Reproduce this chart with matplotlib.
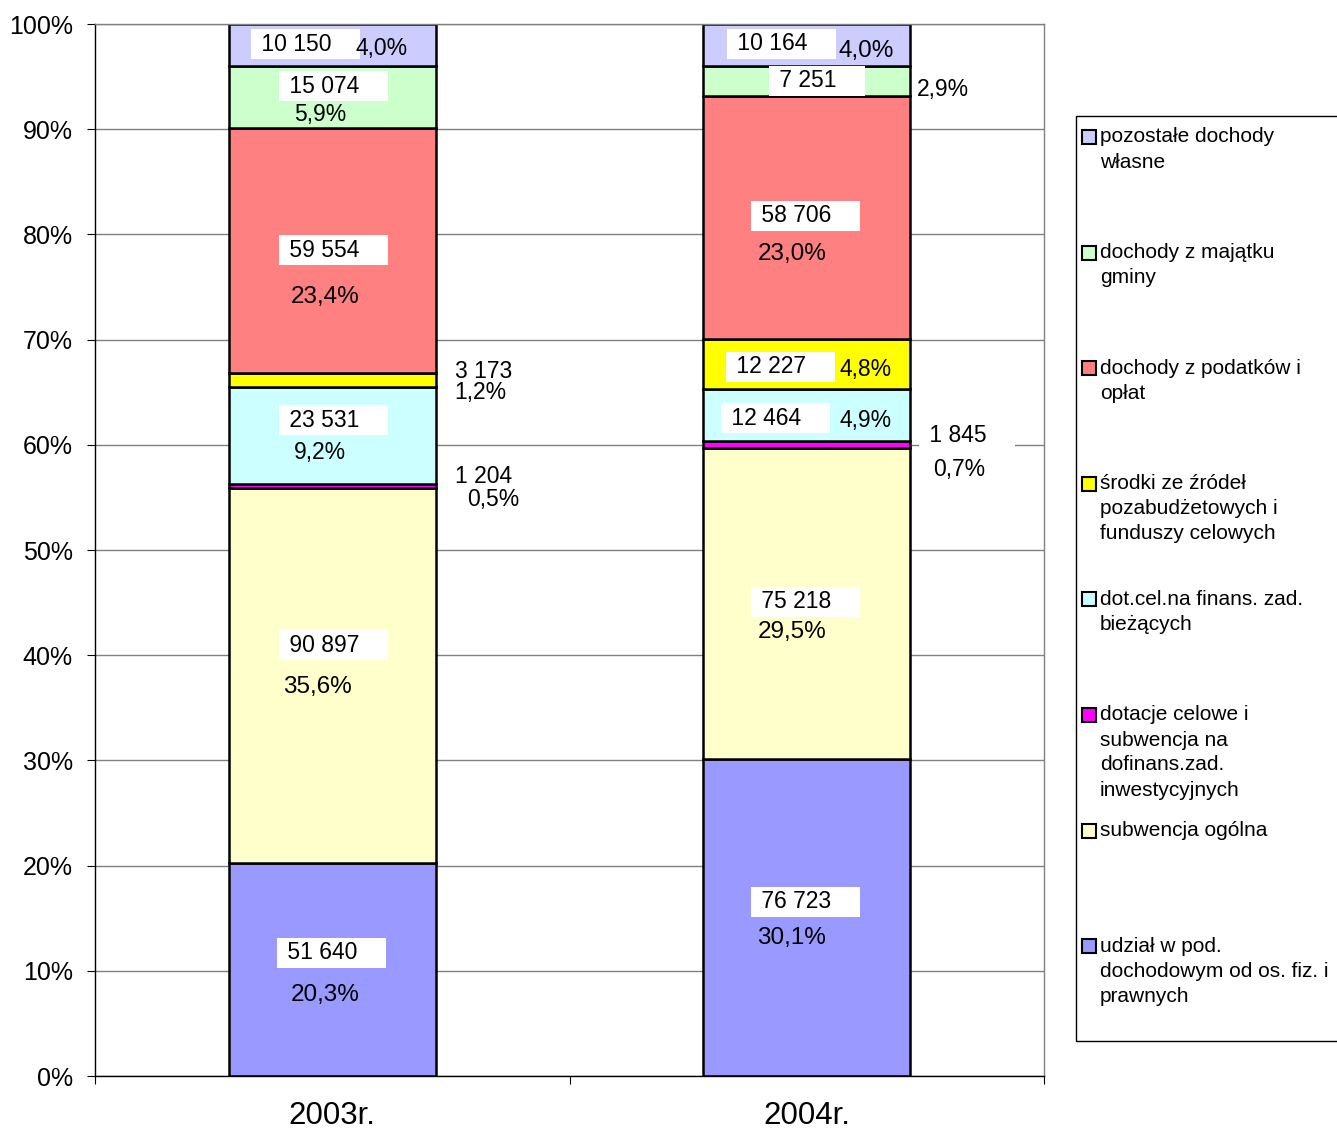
import numpy as np
import matplotlib.pyplot as plt
from matplotlib.patches import Rectangle

plt.rcParams['font.family'] = ['Liberation Sans', 'DejaVu Sans']

years = ['2003r.', '2004r.']
# series from bottom to top of the stack
series = [
    ['udział w pod.', 'dochodowym od os. fiz. i', 'prawnych'],
    ['subwencja ogólna'],
    ['dotacje celowe i', 'subwencja na', 'dofinans.zad.', 'inwestycyjnych'],
    ['dot.cel.na finans. zad.', 'bieżących'],
    ['środki ze źródeł', 'pozabudżetowych i', 'funduszy celowych'],
    ['dochody z podatków i', 'opłat'],
    ['dochody z majątku', 'gminy'],
    ['pozostałe dochody', 'własne'],
]
colors = ['#9999FF', '#FFFFCC', '#FF00FF', '#CCFFFF', '#FFFF00', '#FF8080', '#CCFFCC', '#CCCCFF']

v2003 = [51640, 90897, 1204, 23531, 3173, 59554, 15074, 10150]
v2004 = [76723, 75218, 1845, 12464, 12227, 58706, 7251, 10164]
pct2003 = ['20,3%', '35,6%', '0,5%', '9,2%', '1,2%', '23,4%', '5,9%', '4,0%']
pct2004 = ['30,1%', '29,5%', '0,7%', '4,9%', '4,8%', '23,0%', '2,9%', '4,0%']

# label layout, pixel offsets from segment centre: (dx, dy, boxed) for values,
# (dx, dy, ha, fontsize) for percentages
val_pos = [
    [(-51.5, -16.6, 1), (-49.5, -30.8, 1), (122.5, -9, 0), (-49.5, -15, 1),
     (122.5, -8, 0), (-49.5, -0.7, 1), (-49.5, -10.9, 1), (-77.5, -0.9, 1)],
    [(-52, -15.5, 1), (-52, -1.6, 1), (116, -8.4, 1), (-82, 3.2, 1),
     (-77, 3.2, 1), (-52, -1.3, 1), (-34, 0, 1), (-76, -1, 1)],
]
pct_pos = [
    [(-7.5, 25.4, 'center', 17.5), (-14.5, 11.2, 'center', 17.5), (134.5, 14, 'left', 16.5),
     (-12.5, 17, 'center', 16.5), (122.5, 13, 'left', 16.5), (-7.5, 46.3, 'center', 17.5),
     (-12.5, 17.1, 'center', 16.5), (49.5, 4, 'center', 16.5)],
    [(-15, 20.5, 'center', 17.5), (-15, 28.4, 'center', 17.5), (126, 25.6, 'left', 16.5),
     (59, 5.2, 'center', 16.5), (59, 6.2, 'center', 16.5), (-15, 36.7, 'center', 17.5),
     (110, 9, 'left', 16.5), (59, 6, 'center', 17.5)],
]

W, H = 1337, 1133
fig = plt.figure(figsize=(W / 100, H / 100), dpi=100)
ax = fig.add_axes([95 / W, 57 / H, 949 / W, 1052 / H])

px = 0.72  # pixels -> points
for i, (vals, pcts) in enumerate([(v2003, pct2003), (v2004, pct2004)]):
    vals = np.array(vals, dtype=float)
    share = vals / vals.sum() * 100
    bottom = 0
    for k in range(len(vals)):
        ax.bar(i, share[k], bottom=bottom, width=0.436, color=colors[k],
               edgecolor='black', linewidth=1.8, zorder=2)
        mid = bottom + share[k] / 2
        dx, dy, boxed = val_pos[i][k]
        txt = f'{int(vals[k]):,}'.replace(',', ' ')
        if boxed:
            ax.annotate(' ' + txt + '    ', xy=(i, mid), xytext=(dx * px, -dy * px),
                        textcoords='offset points', ha='left', va='center',
                        fontsize=16.5, zorder=4,
                        bbox=dict(boxstyle='square,pad=0.15', fc='white', ec='none'))
        else:
            ax.annotate(txt, xy=(i, mid), xytext=(dx * px, -dy * px),
                        textcoords='offset points', ha='left', va='center',
                        fontsize=16.5, zorder=4)
        dx, dy, ha, fs = pct_pos[i][k]
        ax.annotate(pcts[k], xy=(i, mid), xytext=(dx * px, -dy * px),
                    textcoords='offset points', ha=ha, va='center',
                    fontsize=fs, zorder=5)
        bottom += share[k]

ax.set_xlim(-0.5, 1.5)
ax.set_ylim(0, 100)
ax.set_yticks(range(0, 101, 10))
ax.set_yticklabels([f'{t}%' for t in range(0, 101, 10)], fontsize=18)
ax.set_xticks([0, 1])
ax.set_xticklabels(years, fontsize=22.5)
ax.set_xticks([-0.5, 0.5, 1.5], minor=True)
ax.tick_params(axis='y', length=6, width=0.8, pad=10)
ax.tick_params(axis='x', which='major', length=0, pad=18)
ax.tick_params(axis='x', which='minor', length=6, width=0.8)
ax.yaxis.grid(True, color='#808080', lw=1)
ax.set_axisbelow(True)
for s in ['left', 'bottom']:
    ax.spines[s].set_color('black')
    ax.spines[s].set_linewidth(1)
for s in ['right', 'top']:
    ax.spines[s].set_color('#808080')
    ax.spines[s].set_linewidth(1)

# legend, drawn by hand so entries sit at even steps like the original
fig.add_artist(Rectangle((1076 / W, 1 - 1041 / H), 0.3, (1041 - 116) / H,
                         transform=fig.transFigure, fc='white', ec='black', lw=1))
for n, k in enumerate(range(len(series) - 1, -1, -1)):
    y0 = 137 + n * 115.6
    fig.add_artist(Rectangle((1082 / W, 1 - (y0 + 7) / H), 14 / W, 14 / H,
                             transform=fig.transFigure, fc=colors[k], ec='black', lw=1.5))
    for j, line in enumerate(series[k]):
        fig.text(1100 / W, 1 - (y0 + j * 25) / H, line, fontsize=15,
                 ha='left', va='center')

fig.savefig('out.png', dpi=100)
